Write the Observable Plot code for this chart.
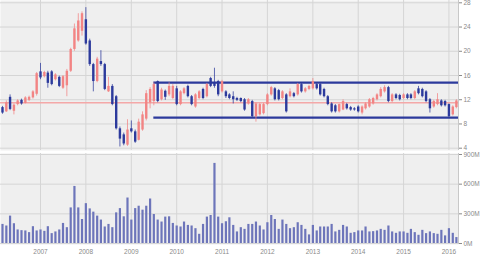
<!DOCTYPE html>
<html><head><meta charset="utf-8">
<script src="https://cdn.jsdelivr.net/npm/d3@7"></script>
<script src="https://cdn.jsdelivr.net/npm/@observablehq/plot@0.6"></script>
<style>
html,body{margin:0;padding:0;background:#fff;}
#chart{width:480px;height:254px;overflow:hidden;}
#chart svg{display:block;}
</style></head><body><div id="chart"></div>
<script>
// Monthly candles, first month = March 2006
const firstMonth = "2006-03-01";
const open = [10.7,10.0,12.4,10.1,11.2,11.9,11.4,11.9,12.3,12.9,16.6,15.8,16.4,16.6,15.3,15.7,13.9,14.3,16.7,20.3,21.7,23.3,25.2,21.7,17.8,15.0,18.3,17.8,13.3,14.2,12.5,7.2,6.2,4.5,7.2,6.7,5.3,7.0,8.8,11.5,11.7,15.0,12.0,13.4,12.8,12.2,13.8,11.2,13.0,14.2,12.5,10.8,12.2,13.7,12.5,15.5,14.7,15.0,13.3,13.3,12.8,12.5,12.2,12.2,12.0,11.3,11.7,9.2,9.5,9.7,11.2,12.8,13.8,13.5,12.2,12.8,12.5,13.0,12.8,14.5,13.3,13.7,13.8,14.5,14.5,13.7,12.5,11.3,11.0,10.0,10.3,11.2,10.7,10.5,10.8,9.8,10.5,10.8,11.3,12.0,12.5,13.3,14.0,11.7,12.8,12.7,12.2,12.8,12.8,12.2,13.8,13.7,13.3,12.0,10.8,11.2,11.8,11.7,11.2,9.5,10.7];
const close = [9.8,11.5,10.4,11.1,11.8,11.3,12.3,12.4,13.3,16.3,15.6,16.5,14.7,14.5,16.1,14.2,15.8,16.7,20.3,23.7,25.0,26.2,21.2,17.8,15.0,18.7,17.8,13.7,14.2,11.2,7.2,5.5,4.7,7.0,6.7,5.0,8.3,9.5,13.0,13.7,14.5,11.7,13.6,12.4,14.2,14.2,11.2,13.3,13.8,12.5,11.2,12.8,13.3,12.2,14.5,14.2,14.2,12.8,15.0,12.5,12.2,12.0,11.9,11.7,10.3,12.0,9.2,11.3,11.2,11.2,12.8,14.0,12.0,12.0,13.3,10.0,13.3,12.5,14.5,13.3,13.8,14.2,15.0,13.8,12.8,12.5,11.2,10.0,10.0,11.2,11.7,10.5,10.3,10.3,10.0,10.8,11.3,12.0,12.2,12.8,13.7,14.0,11.7,12.8,12.2,12.0,12.8,12.2,12.2,13.3,13.0,12.5,11.7,10.5,11.7,12.0,11.0,11.0,9.2,10.8,11.8];
const high = [10.9,11.8,12.8,11.3,12.0,12.1,12.5,12.6,13.5,16.5,18.0,16.7,16.7,16.8,16.3,15.9,16.0,17.0,20.5,24.5,26.2,26.5,27.2,22.0,18.0,19.0,20.1,18.0,15.7,14.5,12.7,7.5,6.5,8.7,8.5,7.0,8.8,10.0,13.5,14.0,14.8,15.1,13.9,13.6,14.8,14.5,14.2,13.5,14.0,14.4,12.7,13.0,13.5,13.9,14.7,15.7,17.2,15.2,15.2,13.5,13.0,13.3,12.4,12.3,12.2,12.2,11.9,11.5,11.4,11.4,13.0,14.2,14.0,13.7,13.5,13.0,13.8,13.2,14.7,14.7,14.0,14.4,15.5,14.7,14.7,13.9,12.7,11.5,11.2,11.3,12.0,11.4,10.9,10.7,11.0,11.0,11.5,12.2,12.4,13.0,14.0,14.3,14.2,13.0,13.0,12.9,13.0,13.0,13.0,13.5,14.2,13.9,13.5,12.2,11.9,13.0,12.0,11.9,11.3,11.0,12.0];
const low = [9.6,9.9,10.2,9.5,11.0,11.1,11.3,11.7,12.1,12.6,15.3,15.6,13.9,14.3,15.1,14.0,13.7,12.5,16.5,20.0,21.5,22.5,21.0,17.5,13.3,14.8,17.5,13.5,13.2,11.0,7.0,4.2,4.4,4.3,6.5,4.8,5.2,6.8,8.5,10.5,11.0,11.5,11.8,11.9,12.5,12.0,11.0,11.0,12.8,12.3,11.0,10.6,12.0,12.0,12.3,14.0,13.9,12.5,13.1,12.2,12.0,11.3,11.7,11.5,10.1,11.1,9.0,8.3,9.3,9.5,11.0,12.6,11.8,11.8,12.0,9.8,12.3,12.3,12.6,13.1,13.1,13.5,13.6,13.6,12.6,12.3,11.0,9.8,9.8,9.8,10.2,10.3,10.1,10.1,9.8,9.5,10.3,10.6,11.1,11.8,12.3,13.1,11.5,11.5,12.0,11.8,12.0,12.0,12.0,12.0,12.8,12.3,11.5,9.8,10.6,11.0,10.8,10.8,9.0,9.3,10.5];
// Volume in millions
const volume = [193,177,277,200,137,130,127,110,170,127,137,123,170,100,117,137,203,160,360,577,360,243,403,350,317,277,237,167,193,160,310,353,270,460,237,353,377,337,377,450,293,237,217,267,270,203,177,167,217,183,177,150,93,193,267,283,810,267,200,220,260,183,117,160,
143,193,193,217,177,137,210,283,243,143,237,193,150,160,210,183,143,87,183,127,167,167,167,193,117,133,183,167,103,110,127,127,167,117,120,127,143,133,177,117,103,117,117,103,143,110,83,133,100,117,100,93,133,77,150,103,60];

const priceTicks = [4,8,12,16,20,24,28];
const volumeTicks = [0,300,600,900];
const channelStart = "2009-07-01";
const channelTop = 14.83;
const channelBottom = 9.05;
const averageLevel = 11.5;
const xDomain = [new Date("2006-02-13"), new Date("2016-03-18")];

const start = new Date(firstMonth);
const rows = open.map((o, i) => ({
  date: d3.utcMonth.offset(start, i),
  open: o, close: close[i], high: high[i], low: low[i], volume: volume[i],
  up: close[i] >= o
}));
const years = d3.utcYears(new Date("2007-01-01"), new Date("2016-12-31"));
const channels = [channelTop, channelBottom].map(v => ({v, x1: new Date(channelStart), x2: xDomain[1]}));

const UP = "#f28484", DOWN = "#2c3a9c";
const GRID = "#d5d5d5", PANEL = "#efefef", TEXT = "#8a8a8a";
const font = {fontFamily: "'Liberation Sans', Arial, sans-serif", fontSize: "6.5px", background: "transparent", overflow: "visible"};

const upper = Plot.plot({
  width: 480, height: 150, marginLeft: 0, marginRight: 22, marginTop: 0, marginBottom: 0,
  style: font,
  x: {type: "utc", domain: xDomain, axis: null},
  y: {domain: [4, 28], range: [147.7, 2.3], axis: null, label: null},
  marks: [
    Plot.frame({fill: PANEL, stroke: null}),
    Plot.gridX(years, {stroke: GRID, strokeOpacity: 1}),
    Plot.gridY(priceTicks, {stroke: GRID, strokeOpacity: 1}),
    Plot.ruleY([averageLevel], {stroke: "#f4a8a8", strokeWidth: 1.6}),
    Plot.ruleY(channels, {y: "v", x1: "x1", x2: "x2", stroke: DOWN, strokeWidth: 2.4}),
    Plot.ruleX(rows, {x: "date", y1: "low", y2: "high", stroke: d => d.up ? UP : DOWN, strokeWidth: 1, strokeOpacity: 0.75}),
    Plot.ruleX(rows, {x: "date", y1: "open", y2: "close", stroke: d => d.up ? UP : DOWN, strokeWidth: 2.4}),
    Plot.ruleX([xDomain[1]], {stroke: "#c8c8c8"}),
    Plot.axisY({ticks: priceTicks, anchor: "right", tickSize: 3, tickPadding: 2, color: TEXT, label: null})
  ]
});

const lower = Plot.plot({
  width: 480, height: 104, marginLeft: 0, marginRight: 22, marginTop: 3, marginBottom: 10,
  style: font,
  x: {type: "utc", domain: xDomain, label: null},
  y: {domain: [0, 900], range: [93, 4], axis: null, label: null},
  marks: [
    Plot.frame({fill: PANEL, stroke: null}),
    Plot.gridX(years, {stroke: GRID, strokeOpacity: 1}),
    Plot.gridY(volumeTicks, {stroke: GRID, strokeOpacity: 1}),
    Plot.ruleX(rows, {x: "date", y1: 0, y2: "volume", stroke: "#6d75ba", strokeWidth: 2.2}),
    Plot.ruleX([xDomain[1]], {stroke: "#c8c8c8"}),
    Plot.axisY({ticks: volumeTicks, tickFormat: d => d + "M", anchor: "right", tickSize: 3, tickPadding: 2, color: TEXT, label: null}),
    Plot.axisX({ticks: years, tickFormat: d3.utcFormat("%Y"), tickSize: 0, tickPadding: 5, color: TEXT, label: null})
  ]
});

const el = document.getElementById("chart");
el.appendChild(upper);
el.appendChild(lower);
</script></body></html>
